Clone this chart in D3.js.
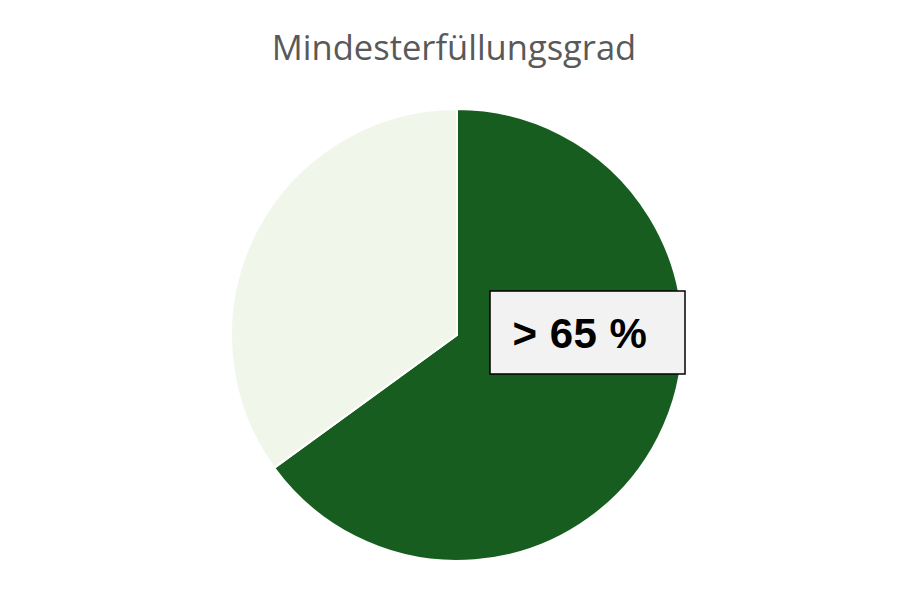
<!DOCTYPE html>
<html>
<head>
<meta charset="utf-8">
<script src="https://cdn.jsdelivr.net/npm/d3@7"></script>
<style>
  html, body { margin: 0; padding: 0; background: #fff; }
</style>
</head>
<body>
<svg width="908" height="589"></svg>
<script>
// chart data
var categories = ["erfüllt", "nicht erfüllt"];
var values = [65, 35];
var colors = ["#175d20", "#f0f7ea"];
var title = "Mindesterfüllungsgrad";
var labelText = "> 65 %";

var svg = d3.select("svg"),
    cx = 457, cy = 335, r = 226;

svg.append("text")
    .attr("x", 454)
    .attr("y", 60)
    .attr("text-anchor", "middle")
    .attr("font-family", "'Open Sans', sans-serif")
    .attr("font-size", 34.5)
    .attr("fill", "#595959")
    .text(title);

var pie = d3.pie().sort(null).value(function(d) { return d; });
var arc = d3.arc().innerRadius(0).outerRadius(r);

var color = d3.scaleOrdinal().domain(categories).range(colors);

var g = svg.append("g")
    .attr("transform", "translate(" + cx + "," + cy + ")");

g.selectAll(".slice")
    .data(pie(values))
    .enter().append("path")
    .attr("class", "slice")
    .attr("d", arc)
    .attr("fill", function(d, i) { return color(categories[i]); })
    .attr("stroke", "#fff")
    .attr("stroke-width", 2)
    .attr("stroke-linejoin", "round");

// data label box
var box = svg.append("g").attr("transform", "translate(490,291)");
box.append("rect")
    .attr("width", 195)
    .attr("height", 83)
    .attr("fill", "#f2f2f2")
    .attr("stroke", "#000")
    .attr("stroke-width", 1.5);
box.append("text")
    .attr("x", 90)
    .attr("y", 57)
    .attr("text-anchor", "middle")
    .attr("font-family", "'Liberation Sans', Arial, sans-serif")
    .attr("font-weight", "bold")
    .attr("font-size", 42)
    .attr("letter-spacing", 0.5)
    .attr("fill", "#000")
    .text(labelText);
</script>
</body>
</html>
